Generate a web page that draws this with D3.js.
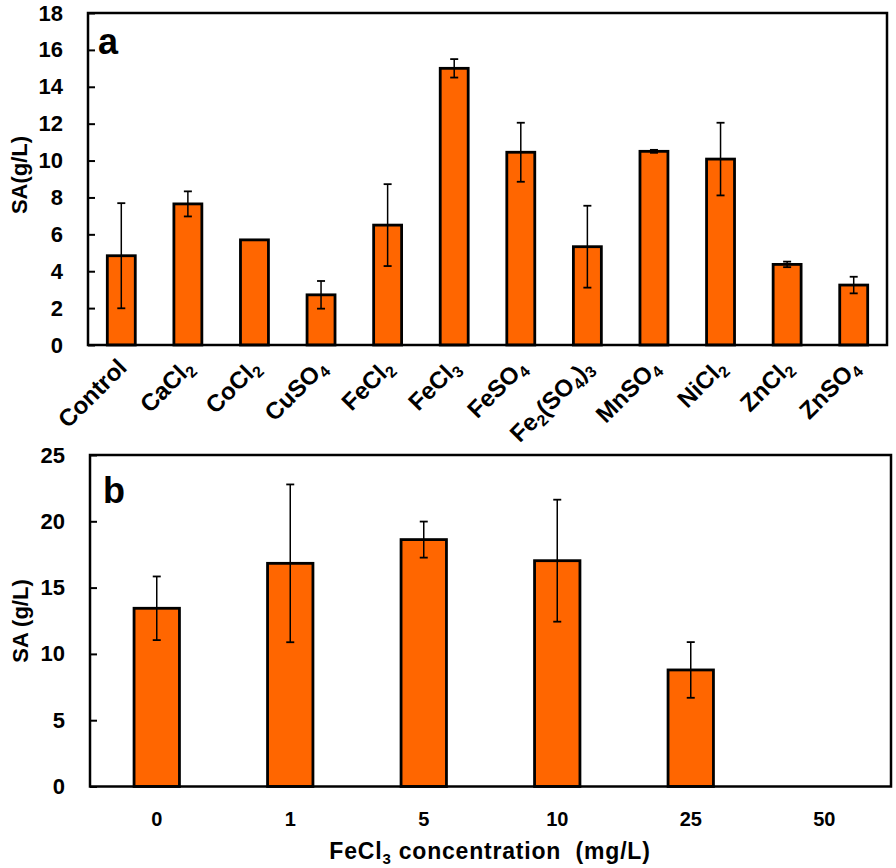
<!DOCTYPE html>
<html><head><meta charset="utf-8">
<script src="https://cdn.jsdelivr.net/npm/d3@7"></script>
<style>body{margin:0;background:#fff;} text{font-family:"Liberation Sans",Arial,sans-serif;font-weight:bold;fill:#000;}</style>
</head><body>
<svg id="c" width="896" height="868"></svg>
<script>
// Panel a data
const catsA = ["Control","CaCl2","CoCl2","CuSO4","FeCl2","FeCl3","FeSO4","Fe2(SO4)3","MnSO4","NiCl2","ZnCl2","ZnSO4"];
const labelsA = [
  [["Control",0]],
  [["CaCl",0],["2",1]],
  [["CoCl",0],["2",1]],
  [["CuSO",0],["4",1]],
  [["FeCl",0],["2",1]],
  [["FeCl",0],["3",1]],
  [["FeSO",0],["4",1]],
  [["Fe",0],["2",1],["(SO",0],["4",1],[")",0],["3",1]],
  [["MnSO",0],["4",1]],
  [["NiCl",0],["2",1]],
  [["ZnCl",0],["2",1]],
  [["ZnSO",0],["4",1]]
];
const valuesA = [4.84, 7.65, 5.7, 2.72, 6.5, 15.0, 10.45, 5.33, 10.5, 10.08, 4.37, 3.25];
const errorsA = [2.85, 0.68, 0, 0.75, 2.22, 0.5, 1.6, 2.22, 0.08, 1.97, 0.15, 0.45];
const ticksA = [0,2,4,6,8,10,12,14,16,18];

// Panel b data
const catsB = ["0","1","5","10","25","50"];
const valuesB = [13.44, 16.83, 18.62, 17.03, 8.79, 0];
const errorsB = [2.4, 5.95, 1.36, 4.6, 2.1, 0];
const ticksB = [0,5,10,15,20,25];

const svg = d3.select("#c");
const ORANGE = "#FF6600";

function panel(o){
  const g = svg.append("g");
  const x = d3.scaleBand().domain(o.cats).range([o.x0,o.x1]).paddingInner(0).paddingOuter(0);
  const y = d3.scaleLinear().domain(o.domain).range([o.y0,o.y1]);
  const bw = x.bandwidth()*o.barFrac;
  g.selectAll("rect.bar").data(o.vals).enter().append("rect")
    .attr("x",(d,i)=>x(o.cats[i])+x.bandwidth()/2-bw/2)
    .attr("y",d=>y(d)).attr("width",bw).attr("height",d=>y(0)-y(d))
    .attr("fill",ORANGE).attr("stroke","#000").attr("stroke-width",2.8)
    .style("display",d=>d>0?null:"none");
  const eb = g.selectAll("g.eb").data(o.vals.map((v,i)=>({v,e:o.errs[i],c:o.cats[i]})).filter(d=>d.e>0)).enter().append("g");
  eb.append("line").attr("x1",d=>x(d.c)+x.bandwidth()/2).attr("x2",d=>x(d.c)+x.bandwidth()/2)
    .attr("y1",d=>y(d.v+d.e)).attr("y2",d=>y(d.v-d.e)).attr("stroke","#000").attr("stroke-width",1.5);
  [1,-1].forEach(s=>{
    eb.append("line").attr("x1",d=>x(d.c)+x.bandwidth()/2-4).attr("x2",d=>x(d.c)+x.bandwidth()/2+4)
      .attr("y1",d=>y(d.v+s*d.e)).attr("y2",d=>y(d.v+s*d.e)).attr("stroke","#000").attr("stroke-width",1.8);
  });
  g.append("rect").attr("x",o.x0).attr("y",o.y1).attr("width",o.x1-o.x0).attr("height",o.y0-o.y1)
    .attr("fill","none").attr("stroke","#000").attr("stroke-width",2.5);
  const ya = d3.axisLeft(y).tickValues(o.ticks).tickSizeInner(-7).tickSizeOuter(0).tickPadding(25);
  const ag = g.append("g").attr("transform",`translate(${o.x0},0)`).call(ya);
  ag.select(".domain").remove();
  ag.selectAll(".tick line").attr("stroke","#000").attr("stroke-width",2);
  ag.selectAll("text").attr("font-size",22).attr("font-family","Liberation Sans, Arial").attr("font-weight","bold").attr("fill","#000");
  return {x,y,g};
}

const A = panel({cats:catsA, vals:valuesA, errs:errorsA, ticks:ticksA, domain:[0,18], x0:88, x1:887, y0:345, y1:13, barFrac:0.42});
const B = panel({cats:catsB, vals:valuesB, errs:errorsB, ticks:ticksB, domain:[0,25], x0:90, x1:891, y0:786.5, y1:455, barFrac:0.34});

// panel a x labels (rotated)
labelsA.forEach((parts,i)=>{
  const cx = A.x(catsA[i]) + A.x.bandwidth()/2;
  const t = A.g.append("text").attr("text-anchor","end").attr("font-size",24)
    .attr("transform",`translate(${cx+7},${369}) rotate(-45)`);
  let prevSub = false;
  parts.forEach((p,j)=>{
    const ts = t.append("tspan").text(p[0]);
    if(p[1]){ ts.attr("font-size",16).attr("dy",5); prevSub = true; }
    else if(prevSub){ ts.attr("dy",-5); prevSub = false; }
  });
});

// panel b x labels
catsB.forEach(c=>{
  B.g.append("text").attr("x",B.x(c)+B.x.bandwidth()/2).attr("y",826).attr("text-anchor","middle").attr("font-size",20).text(c);
});

// axis titles
svg.append("text").attr("transform","translate(27,175) rotate(-90)").attr("text-anchor","middle").attr("font-size",22).text("SA(g/L)");
svg.append("text").attr("transform","translate(28,621) rotate(-90)").attr("text-anchor","middle").attr("font-size",22).attr("xml:space","preserve").text("SA (g/L)");
const xt = svg.append("text").attr("x",490).attr("y",859).attr("text-anchor","middle").attr("font-size",23).attr("letter-spacing",0.8).attr("xml:space","preserve");
xt.append("tspan").text("FeCl");
xt.append("tspan").text("3").attr("font-size",15).attr("dy",5);
xt.append("tspan").text(" concentration  (mg/L)").attr("dy",-5);

// panel letters
svg.append("text").attr("x",98).attr("y",54).attr("font-size",36).text("a");
svg.append("text").attr("x",103).attr("y",503).attr("font-size",36).text("b");
</script>
</body></html>
